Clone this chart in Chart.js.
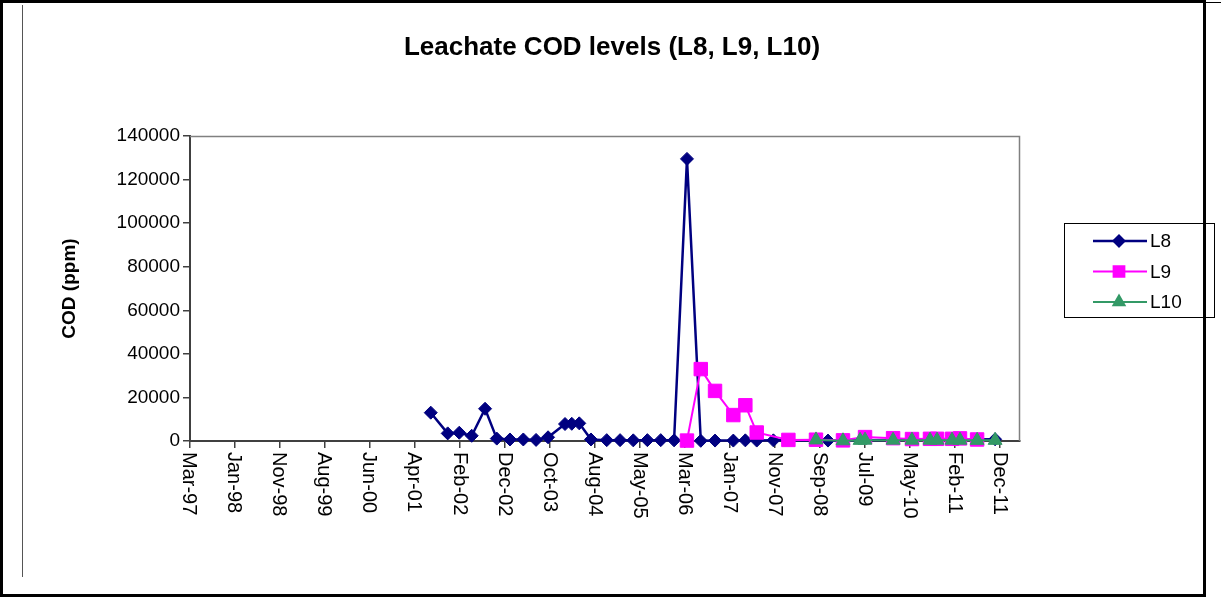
<!DOCTYPE html>
<html>
<head>
<meta charset="utf-8">
<script src="https://cdn.jsdelivr.net/npm/chart.js@4/dist/chart.umd.min.js"></script>
<style>
  body { margin: 0; background: #fff; }
  canvas { display: block; }
</style>
</head>
<body>
<canvas id="chart1" width="1221" height="600"></canvas>
<script>
        // leachate COD chart (L8, L9, L10)
        const chartTitle = 'Leachate COD levels (L8, L9, L10)';
        const yTitle = 'COD (ppm)';

        // date axis: starts at axisStart, one major tick every majorUnit days
        const axisStart = '1997-03-12';
        const majorUnit = 300;
        const tickLabels = ['Mar-97', 'Jan-98', 'Nov-98', 'Aug-99', 'Jun-00', 'Apr-01', 'Feb-02', 'Dec-02',
            'Oct-03', 'Aug-04', 'May-05', 'Mar-06', 'Jan-07', 'Nov-07', 'Sep-08', 'Jul-09', 'May-10', 'Feb-11', 'Dec-11'];

        const l8Dates = ['2001-08-03', '2001-11-24', '2002-02-09', '2002-05-03', '2002-07-31', '2002-10-17',
            '2003-01-13', '2003-04-12', '2003-07-06', '2003-09-24', '2004-01-15', '2004-02-29', '2004-04-19',
            '2004-07-06', '2004-10-19', '2005-01-16', '2005-04-14', '2005-07-17', '2005-10-14', '2006-01-11',
            '2006-04-07', '2006-07-08', '2006-10-11', '2007-02-10', '2007-05-01', '2007-07-16', '2007-11-04',
            '2008-11-02', '2011-11-21'];
        const l8Values = [13000, 3500, 3800, 2400, 14800, 1100, 700, 700, 500, 1700, 7800, 7900, 8100,
            700, 400, 400, 300, 400, 400, 300, 129500, 100, 200, 200, 300, 200, 300, 200, 800];

        const l9Dates = ['2006-04-07', '2006-07-08', '2006-10-11', '2007-02-10', '2007-05-01', '2007-07-16',
            '2008-02-12', '2008-08-14', '2009-02-10', '2009-07-07', '2010-01-10', '2010-05-16', '2010-09-13',
            '2010-10-30', '2011-02-07', '2011-04-01', '2011-07-24'];
        const l9Values = [200, 33000, 23000, 11900, 16400, 3900, 500, 600, 300, 1800, 1300, 900, 1000,
            1000, 1000, 1200, 700];

        const l10Dates = ['2008-08-14', '2009-02-10', '2009-06-04', '2009-07-07', '2010-01-10', '2010-05-16',
            '2010-09-13', '2010-10-30', '2011-02-07', '2011-04-01', '2011-07-24', '2011-11-21'];
        const l10Values = [500, 100, 300, 400, 400, 400, 400, 400, 400, 400, 300, 300];

        const FONT = '"Liberation Sans", Arial, sans-serif';

        function dayNum(s) {
            return Date.parse(s + 'T00:00:00Z') / 86400000;
        }
        function toPoints(dates, values) {
            return dates.map((d, i) => ({ x: dayNum(d), y: values[i] }));
        }

        const xMin = dayNum(axisStart);
        const xMax = xMin + majorUnit * (tickLabels.length - 1) + 133;

        const series = [
            { label: 'L8', data: toPoints(l8Dates, l8Values), color: '#000080', style: 'rectRot', radius: 6.5, width: 2.5, order: 3 },
            { label: 'L9', data: toPoints(l9Dates, l9Values), color: '#FF00FF', style: 'rect', radius: 9.5, width: 2, order: 2 },
            { label: 'L10', data: toPoints(l10Dates, l10Values), color: '#339966', style: 'triangle', radius: 8, width: 2, order: 1 },
        ];

        // frame, title, rotated date labels and the boxed legend
        const excelLook = {
            id: 'excelLook',
            beforeDraw(chart) {
                const ctx = chart.ctx;
                ctx.save();
                ctx.fillStyle = '#fff';
                ctx.fillRect(0, 0, chart.width, chart.height);
                ctx.restore();
            },
            beforeDatasetsDraw(chart) {
                const { ctx, chartArea: a } = chart;
                ctx.save();
                ctx.strokeStyle = '#808080';
                ctx.lineWidth = 1.5;
                ctx.beginPath();
                ctx.moveTo(a.left, a.top + 0.5);
                ctx.lineTo(a.right - 0.5, a.top + 0.5);
                ctx.lineTo(a.right - 0.5, a.bottom);
                ctx.stroke();
                ctx.restore();
            },
            afterDraw(chart) {
                const ctx = chart.ctx;
                const xs = chart.scales.x;
                ctx.save();

                // outer frame
                ctx.strokeStyle = '#000';
                ctx.lineWidth = 3;
                ctx.strokeRect(1.5, 1.5, 1203, 594);
                ctx.lineWidth = 1;
                ctx.beginPath();
                ctx.moveTo(1205, 2.5);
                ctx.lineTo(1221, 2.5);
                ctx.stroke();
                ctx.strokeStyle = '#555';
                ctx.beginPath();
                ctx.moveTo(22.5, 5);
                ctx.lineTo(22.5, 577);
                ctx.stroke();

                // title
                ctx.fillStyle = '#000';
                ctx.font = 'bold 26px ' + FONT;
                ctx.textAlign = 'center';
                ctx.textBaseline = 'middle';
                ctx.fillText(chartTitle, 612, 48);

                // x tick labels, read top to bottom
                ctx.font = '20px ' + FONT;
                ctx.textAlign = 'left';
                xs.ticks.forEach((t, i) => {
                    const px = xs.getPixelForValue(t.value);
                    ctx.save();
                    ctx.translate(px, 452);
                    ctx.rotate(Math.PI / 2);
                    ctx.fillText(tickLabels[i], 0, 1);
                    ctx.restore();
                });

                // legend
                ctx.strokeStyle = '#000';
                ctx.lineWidth = 1;
                ctx.strokeRect(1064.5, 223.5, 150, 94);
                ctx.font = '19px ' + FONT;
                ctx.textBaseline = 'middle';
                series.forEach((s, i) => {
                    const y = 241 + i * 30.5;
                    ctx.strokeStyle = s.color;
                    ctx.lineWidth = s.width;
                    ctx.beginPath();
                    ctx.moveTo(1093, y);
                    ctx.lineTo(1147, y);
                    ctx.stroke();
                    ctx.fillStyle = s.color;
                    Chart.helpers.drawPoint(ctx, {
                        pointStyle: s.style,
                        radius: s.radius * 0.8,
                        borderWidth: 1,
                        rotation: 0
                    }, 1119, y);
                    ctx.fill();
                    ctx.fillStyle = '#000';
                    ctx.fillText(s.label, 1150, y + 1);
                });
                ctx.restore();
            }
        };

        const ctx1 = document.getElementById('chart1');

        new Chart(ctx1, {
        type: 'line',
        data: {
            datasets: series.map(s => ({
                label: s.label,
                data: s.data,
                order: s.order,
                borderColor: s.color,
                backgroundColor: s.color,
                borderWidth: s.width,
                pointStyle: s.style,
                pointRadius: s.radius,
                pointHoverRadius: s.radius,
                pointBorderWidth: 1,
                tension: 0,
                clip: false,
            }))
        },
        plugins: [excelLook],
        options: {
            responsive: false,
            animation: false,
            devicePixelRatio: 1,
            layout: {
                padding: { left: 0, top: 136, right: 201, bottom: 152 }
            },
            plugins: {
                legend: { display: false },
                title: { display: false },
                tooltip: { enabled: false },
            },
            scales: {
                x: {
                    type: 'linear',
                    min: xMin,
                    max: xMax,
                    afterBuildTicks: (scale) => {
                        scale.ticks = tickLabels.map((l, i) => ({ value: xMin + i * majorUnit }));
                    },
                    afterFit: (scale) => { scale.height = 7; },
                    ticks: { display: false },
                    grid: { drawOnChartArea: false, drawTicks: true, tickLength: 7, color: '#404040', lineWidth: 1.5 },
                    border: { display: true, color: '#404040', width: 2 },
                },
                y: {
                    min: 0,
                    max: 140000,
                    afterFit: (scale) => { scale.width = 190; },
                    ticks: {
                        stepSize: 20000,
                        color: '#000',
                        padding: 3,
                        font: { family: FONT, size: 19 },
                        callback: (v) => String(v),
                    },
                    grid: { drawOnChartArea: false, drawTicks: true, tickLength: 7, color: '#404040', lineWidth: 1.5 },
                    border: { display: true, color: '#404040', width: 2 },
                    title: {
                        display: true,
                        text: yTitle,
                        color: '#000',
                        font: { family: FONT, size: 19, weight: 'bold' },
                        padding: { top: 58, bottom: 0 },
                    }
                }
            }
        }
        });
</script>
</body>
</html>
